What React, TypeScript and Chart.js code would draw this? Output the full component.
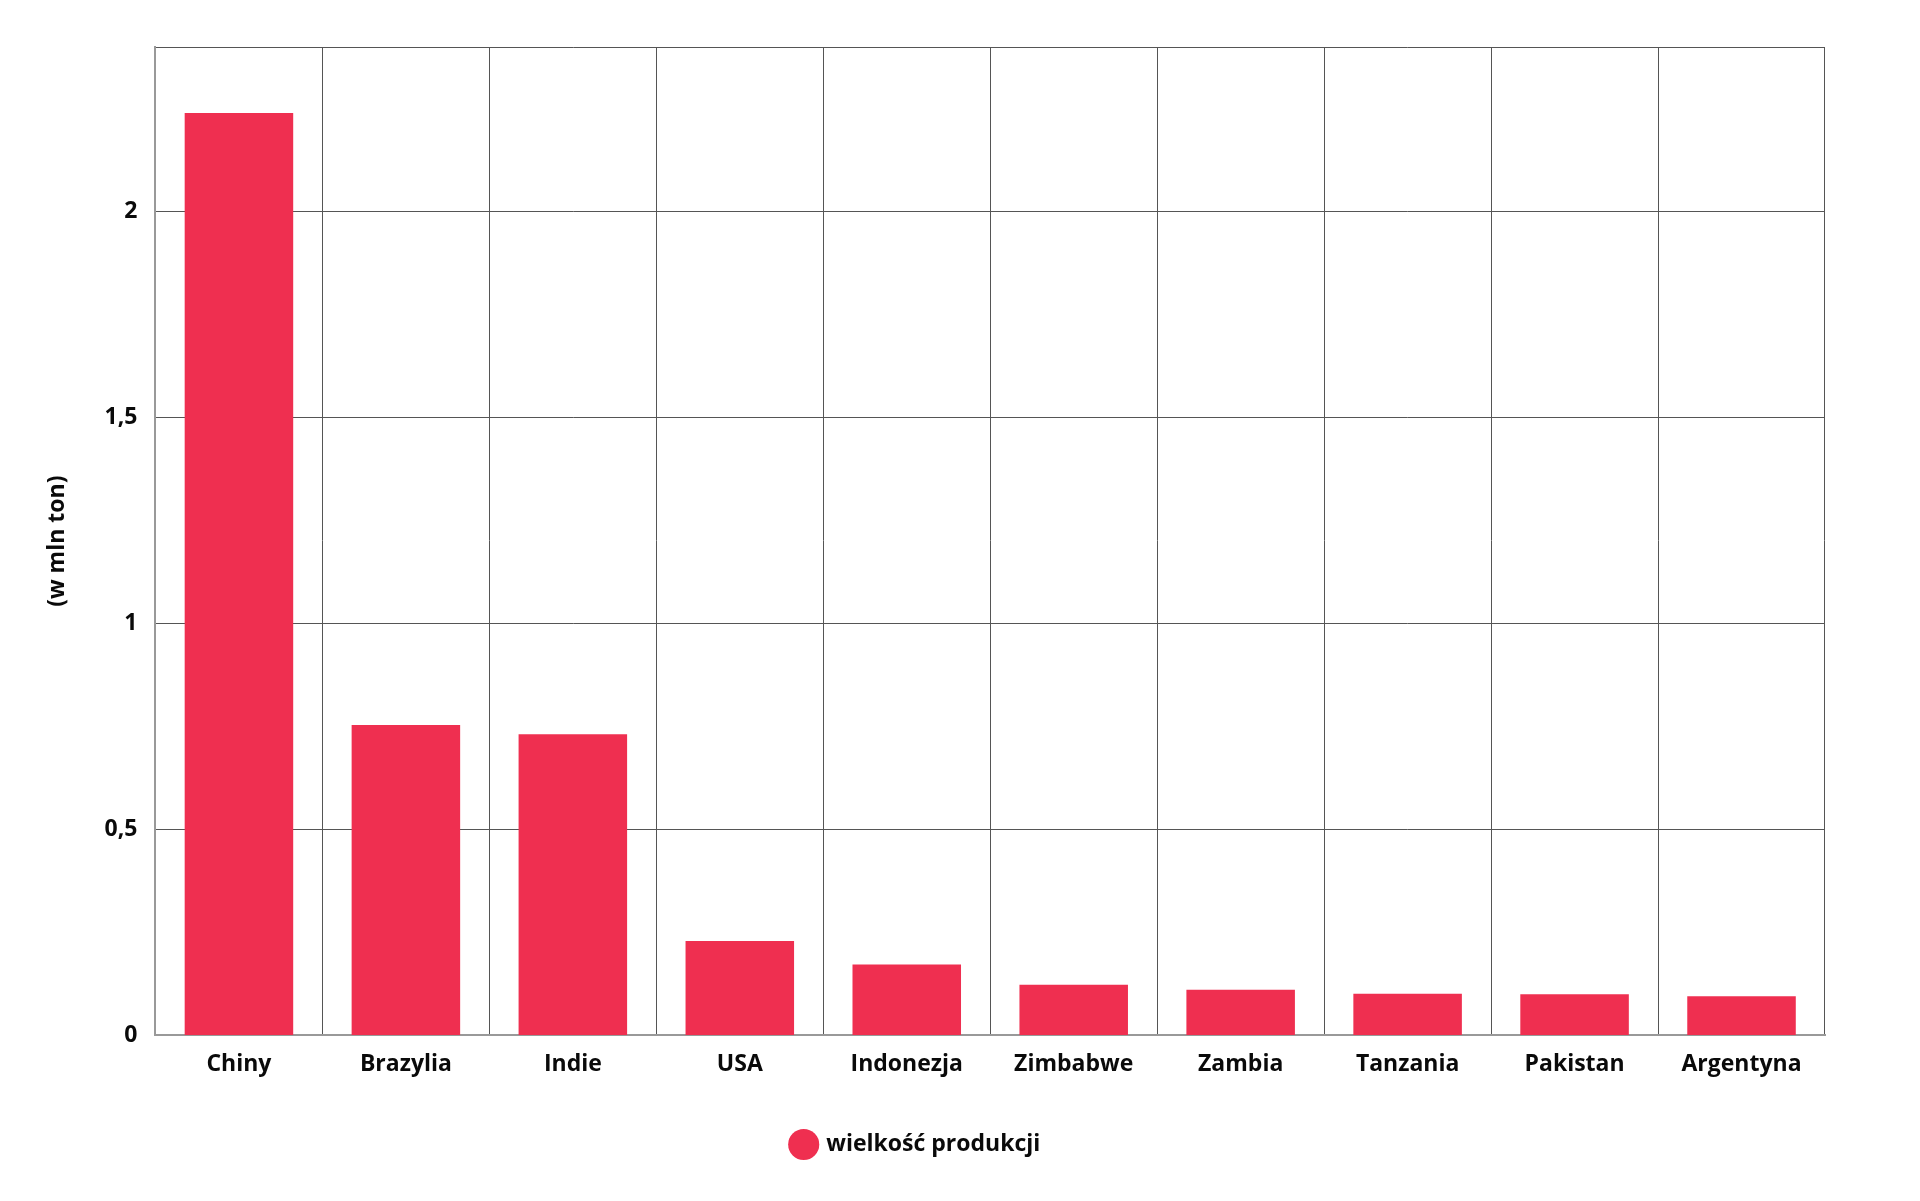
import React, { useEffect, useRef } from "react";
import { Chart, registerables } from "chart.js";

Chart.register(...registerables);

const categories = ["Chiny", "Brazylia", "Indie", "USA", "Indonezja", "Zimbabwe", "Zambia", "Tanzania", "Pakistan", "Argentyna"];
const production = [2.24, 0.754, 0.731, 0.229, 0.172, 0.123, 0.111, 0.101, 0.1, 0.095];
const seriesLabel = "wielkość produkcji";
const yAxisTitle = "(w mln ton)";
const yMax = 2.4;
const yStep = 0.5;

const FONT = "'Open Sans', 'Noto Sans', sans-serif";
const BAR_COLOR = "#EF2F50";
const TEXT_SIZE = 23;

export default function App() {
  const canvasRef = useRef<HTMLCanvasElement | null>(null);

  useEffect(() => {
    if (!canvasRef.current) return;
    const chart = new Chart(canvasRef.current, {
      type: "bar",
      data: {
        labels: categories,
        datasets: [
          {
            label: seriesLabel,
            data: production,
            backgroundColor: BAR_COLOR,
            borderWidth: 0,
            barPercentage: 0.65,
            categoryPercentage: 1,
          },
        ],
      },
      options: {
        animation: false,
        responsive: true,
        maintainAspectRatio: false,
        layout: { padding: { left: 0, right: 87, top: 39, bottom: 27 } },
        plugins: {
          tooltip: { enabled: false },
          legend: {
            position: "bottom",
            labels: {
              usePointStyle: true,
              pointStyle: "circle",
              boxWidth: 22,
              boxHeight: 22,
              padding: 39,
              color: "#0a0a0a",
              font: { family: FONT, size: TEXT_SIZE, weight: "bold" },
            },
          },
        },
        scales: {
          x: {
            grid: { color: "#555", lineWidth: 1, drawTicks: false, offset: true },
            border: { color: "#999", width: 2 },
            ticks: {
              color: "#0a0a0a",
              padding: 15.5,
              maxRotation: 0,
              font: { family: FONT, size: TEXT_SIZE, weight: "bold" },
            },
          },
          y: {
            min: 0,
            max: yMax,
            grid: { color: "#555", lineWidth: 1, drawTicks: false },
            border: { color: "#999", width: 2 },
            ticks: {
              stepSize: yStep,
              padding: 18,
              color: "#0a0a0a",
              font: { family: FONT, size: TEXT_SIZE, weight: "bold" },
              callback: (v: any) => {
                const n = Number(v);
                if (Math.abs(n / yStep - Math.round(n / yStep)) > 1e-6) return "";
                return String(n).replace(".", ",");
              },
            },
            title: {
              display: true,
              text: yAxisTitle,
              color: "#0a0a0a",
              padding: { top: 36, bottom: 15 },
              font: { family: FONT, size: TEXT_SIZE, weight: "bold" },
            },
          },
        },
      },
    });
    return () => chart.destroy();
  }, []);

  return (
    <div style={{ position: "relative", width: "100%", height: "1185px" }}>
      <canvas ref={canvasRef} />
    </div>
  );
}
